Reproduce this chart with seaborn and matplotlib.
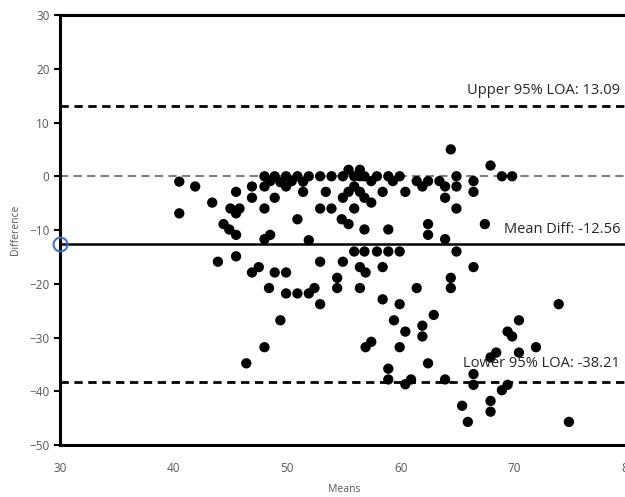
import pandas as pd
import matplotlib
matplotlib.use("Agg")
import matplotlib.pyplot as plt
import seaborn as sns

# Bland-Altman data
means = [40.5, 40.5, 41.9, 43.4, 43.9, 44.4, 44.9, 45.0, 45.5, 45.8, 45.5, 45.5, 45.5, 46.4,
         46.9, 46.9, 46.9, 47.5,
         48.0, 48.0, 48.0, 48.0, 48.0, 48.5, 48.5, 48.4, 48.9, 48.9, 48.9, 49.4, 49.4, 49.9,
         49.9, 49.9, 49.9, 50.4, 50.9, 50.9, 50.9, 51.4, 51.4, 51.9, 51.9, 51.9, 52.4, 52.9,
         52.9, 52.9, 52.9, 53.4, 53.9, 53.9, 54.4, 54.4, 54.8,
         54.9, 54.9, 54.9, 55.4, 55.4, 55.4, 55.9, 55.9, 55.9, 55.9, 56.4, 56.4, 56.4, 56.4,
         56.4, 56.8, 56.8, 56.8, 56.8, 56.9, 56.9, 57.4, 57.4, 57.4, 57.9, 57.9, 58.4, 58.4,
         58.4, 58.9, 58.9, 58.9, 58.9, 58.9, 59.3, 59.4, 59.9, 59.9, 59.9, 59.9, 60.4, 60.4,
         60.4, 60.9, 61.4, 61.4, 61.9, 61.9, 61.9, 62.4, 62.4, 62.4, 62.4, 62.9, 63.4, 63.9,
         63.9, 63.9, 63.9, 64.4, 64.4, 64.4, 64.9, 64.9, 64.9, 64.9, 65.4, 65.9, 66.4, 66.4,
         66.4, 66.4, 66.4, 67.4, 67.9, 67.9, 67.9, 67.9, 68.4, 68.9, 68.9, 69.4, 69.4, 69.8,
         69.8, 70.4, 70.4, 71.9, 73.9, 74.8]
diffs = [-1.0, -6.9, -1.9, -4.9, -15.9, -8.9, -9.9, -6.0, -6.9, -6.0, -2.9, -10.9, -14.9, -34.8,
         -1.9, -4.0, -17.9, -16.9,
         0.0, -1.9, -6.0, -11.7, -31.8, -0.9, -10.9, -20.8, 0.0, -4.0, -17.9, -1.1, -26.8, 0.0,
         -1.9, -17.9, -21.8, -0.9, 0.0, -8.0, -21.8, -1.0, -2.9, 0.0, -11.9, -21.8, -20.8, 0.0,
         -6.0, -15.9, -23.8, -2.9, 0.0, -6.0, -18.9, -20.8, -8.0,
         0.0, -4.0, -15.9, 1.2, -2.9, -8.9, 0.0, -1.9, -6.0, -14.0, 1.2, 0.0, -2.9, -16.9,
         -20.8, 0.0, -4.0, -9.9, -14.0, -17.9, -31.8, -0.9, -4.9, -30.8, 0.0, -14.0, -2.9, -16.9,
         -22.9, 0.0, -9.9, -14.0, -35.8, -37.8, -0.9, -26.8, 0.0, -14.0, -23.8, -31.8, -2.9, -28.9,
         -38.7, -37.8, -0.9, -20.8, -1.9, -27.8, -29.8, -0.9, -8.9, -10.9, -34.8, -25.8, -0.9, -1.9,
         -4.0, -11.7, -37.8, 5.0, -18.9, -20.8, 0.0, -1.9, -6.0, -14.0, -42.7, -45.7, -0.9, -2.9,
         -16.9, -36.8, -38.8, -8.9, 2.0, -33.7, -41.8, -43.8, -32.8, 0.0, -39.8, -28.9, -38.8, 0.0,
         -29.8, -26.8, -32.8, -31.8, -23.8, -45.7]

mean_diff = -12.56
upper_loa = 13.09
lower_loa = -38.21

df = pd.DataFrame({"Means": means, "Difference": diffs})

sns.set_style("white")
plt.rcParams['font.family'] = ['Open Sans', 'DejaVu Sans']

fig = plt.figure(figsize=(6.25, 4.97), dpi=100)
ax = fig.add_axes([0.096, 0.1046, 0.9088, 0.8652])

sns.scatterplot(x="Means", y="Difference", data=df, color="black", s=55,
                edgecolor="none", ax=ax, zorder=3)

# reference lines
ax.axhline(0, color="#808080", linestyle=(0, (4, 2.5)), linewidth=1.5, zorder=1)
ax.axhline(upper_loa, color="black", linestyle=(0, (3, 2)), linewidth=2, zorder=2)
ax.axhline(mean_diff, color="black", linestyle="-", linewidth=1.8, zorder=2)
ax.axhline(lower_loa, color="black", linestyle=(0, (3, 2)), linewidth=2, zorder=2)
ax.plot([30], [mean_diff], marker="o", markersize=10, markerfacecolor="none",
        markeredgecolor="#4472C4", markeredgewidth=1.5, clip_on=False, zorder=5)

txt_x = 79.3
ax.text(txt_x, upper_loa + 1.4, "Upper 95% LOA: 13.09", ha="right", va="bottom",
        fontsize=10.5, color="#262626")
ax.text(txt_x, mean_diff + 1.3, "Mean Diff: -12.56", ha="right", va="bottom",
        fontsize=10.5, color="#262626")
ax.text(txt_x, lower_loa + 1.9, "Lower 95% LOA: -38.21", ha="right", va="bottom",
        fontsize=10.5, color="#262626")

ax.set_xlim(30, 80)
ax.set_ylim(-50, 30)
ax.set_xticks(range(30, 81, 10))
ax.set_yticks(range(-50, 31, 10))
ax.tick_params(axis="x", length=0, labelsize=8.5, labelcolor="#595959", pad=12)
ax.tick_params(axis="y", length=4, width=1.5, color="black", labelsize=8.5,
               labelcolor="#595959", direction="out", left=True)
ax.set_xlabel("Means", fontsize=7.5, color="#595959", labelpad=7)
ax.set_ylabel("Difference", fontsize=7.5, color="#595959", labelpad=6)

for side in ["left", "bottom", "top"]:
    ax.spines[side].set_color("black")
    ax.spines[side].set_linewidth(2.2)
ax.spines["right"].set_visible(False)

fig.savefig("out.png", dpi=100)
plt.close(fig)
